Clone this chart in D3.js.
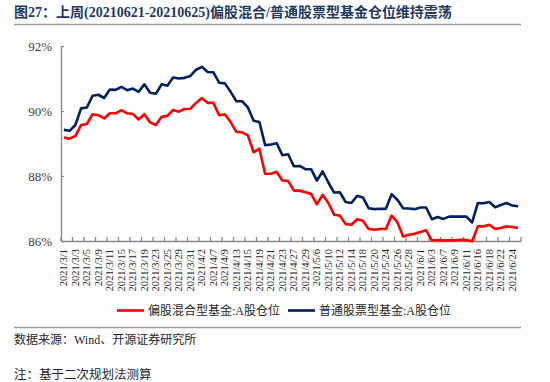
<!DOCTYPE html>
<html><head><meta charset="utf-8">
<script src="https://cdn.jsdelivr.net/npm/d3@7"></script>
<style>
html,body{margin:0;padding:0;background:#fff;}
svg{display:block;}
</style></head>
<body>
<svg id="c" width="550" height="382"></svg>
<script>
const dates = ["2021/3/1","2021/3/2","2021/3/3","2021/3/4","2021/3/5","2021/3/8","2021/3/9","2021/3/10","2021/3/11","2021/3/12",
"2021/3/15","2021/3/16","2021/3/17","2021/3/18","2021/3/19","2021/3/22","2021/3/23","2021/3/24","2021/3/25","2021/3/26",
"2021/3/29","2021/3/30","2021/3/31","2021/4/1","2021/4/2","2021/4/6","2021/4/7","2021/4/8","2021/4/9","2021/4/12",
"2021/4/13","2021/4/14","2021/4/15","2021/4/16","2021/4/19","2021/4/20","2021/4/21","2021/4/22","2021/4/23","2021/4/26",
"2021/4/27","2021/4/28","2021/4/29","2021/4/30","2021/5/6","2021/5/7","2021/5/10","2021/5/11","2021/5/12","2021/5/13",
"2021/5/14","2021/5/17","2021/5/18","2021/5/19","2021/5/20","2021/5/21","2021/5/24","2021/5/25","2021/5/26","2021/5/27",
"2021/5/28","2021/5/31","2021/6/1","2021/6/2","2021/6/3","2021/6/4","2021/6/7","2021/6/8","2021/6/9","2021/6/10",
"2021/6/11","2021/6/15","2021/6/16","2021/6/17","2021/6/18","2021/6/21","2021/6/22","2021/6/23","2021/6/24","2021/6/25"];

const mixedFund = [89.18,89.15,89.23,89.57,89.60,89.90,89.87,89.77,89.93,89.93,
90.03,89.93,89.91,89.74,89.90,89.65,89.57,89.82,89.85,90.03,
89.98,90.06,90.07,90.25,90.40,90.25,90.25,89.87,89.90,89.66,
89.36,89.34,89.25,88.73,88.84,88.07,88.07,88.13,87.86,87.85,
87.55,87.55,87.50,87.45,87.13,87.42,87.17,86.81,86.78,86.52,
86.50,86.67,86.62,86.37,86.35,86.37,86.37,86.78,86.58,86.14,
86.19,86.22,86.28,86.33,86.02,86.03,86.02,86.02,86.02,86.04,
86.03,85.99,86.45,86.45,86.50,86.37,86.40,86.45,86.43,86.40];

const stockFund = [89.42,89.39,89.57,90.08,90.11,90.47,90.50,90.40,90.66,90.65,
90.74,90.64,90.69,90.59,90.82,90.56,90.53,90.82,90.78,91.03,
91.00,91.02,91.08,91.27,91.36,91.20,91.19,90.87,90.85,90.59,
90.30,90.30,90.11,89.70,89.66,88.95,88.97,89.01,88.64,88.67,
88.30,88.31,88.21,88.21,87.86,88.14,87.80,87.49,87.50,87.20,
87.17,87.39,87.34,87.01,86.98,86.99,86.99,87.44,87.27,87.01,
87.00,86.98,87.03,87.03,86.67,86.74,86.68,86.75,86.75,86.75,
86.75,86.57,87.17,87.16,87.20,87.04,87.11,87.17,87.09,87.07];

const yTicks = [86, 88, 90, 92];
const seriesNames = ["偏股混合型基金:A股仓位", "普通股票型基金:A股仓位"];
const seriesColors = ["#ff0000", "#002060"];
const titleText = "图27：上周(20210621-20210625)偏股混合/普通股票型基金仓位维持震荡";
const sourceText = "数据来源：Wind、开源证券研究所";
const noteText = "注：基于二次规划法测算";

const svg = d3.select("#c");
const serif = "'Liberation Serif','Times New Roman','Noto Sans CJK SC',serif";
const cjk = "'Liberation Serif','Noto Sans CJK SC',sans-serif";
const axisColor = "#868686";

// Title
svg.append("text").attr("x", 14).attr("y", 17)
  .attr("font-family", cjk).attr("font-weight", "bold").attr("font-size", 14)
  .attr("fill", "#1f3864").text(titleText);
svg.append("line").attr("x1", 14).attr("x2", 521).attr("y1", 24.5).attr("y2", 24.5)
  .attr("stroke", "#9a9a9a").attr("stroke-width", 1.5);

const x = d3.scaleBand().domain(dates).range([61, 521]).padding(0);
const y = d3.scaleLinear().domain([86, 92]).range([241, 46]);
const bw = x.bandwidth();
const cx = d => x(d) + bw / 2;

// Y axis
const yAxis = d3.axisLeft(y).tickValues(yTicks).tickFormat(d => d + "%")
  .tickSizeInner(-3).tickSizeOuter(0).tickPadding(9);
const gy = svg.append("g").attr("transform", "translate(61,0)").call(yAxis);
gy.select(".domain").attr("stroke", axisColor).attr("stroke-width", 1.3);
gy.selectAll(".tick line").attr("stroke", axisColor).attr("stroke-width", 1.3);
gy.selectAll(".tick text").attr("font-family", serif).attr("font-size", 13).attr("fill", "#404040");

// X axis (labels every second category, ticks on category boundaries)
const labelDates = dates.filter((d, i) => i % 2 === 0);
const xAxis = d3.axisBottom(x).tickValues(labelDates).tickSize(0).tickFormat("");
const gx = svg.append("g").attr("transform", "translate(0,241)").call(xAxis);
gx.select(".domain").attr("stroke", axisColor).attr("stroke-width", 1.3);
const tickPos = labelDates.map(d => x(d)).concat([x.range()[1]]);
gx.selectAll(".bticks").data(tickPos).enter().append("line")
  .attr("x1", d => d).attr("x2", d => d).attr("y1", 0).attr("y2", -4)
  .attr("stroke", axisColor).attr("stroke-width", 1.3);
gx.selectAll(".xl").data(labelDates).enter().append("text")
  .attr("transform", d => `translate(${cx(d) + 3.6},8) rotate(-90)`)
  .attr("text-anchor", "end").attr("font-family", serif).attr("font-size", 10.5)
  .attr("fill", "#262626").text(d => d);

// Lines
const line = d3.line().x((v, i) => cx(dates[i])).y(v => y(v));
[mixedFund, stockFund].forEach((s, k) => {
  svg.append("path").datum(s).attr("d", line).attr("fill", "none")
    .attr("stroke", seriesColors[k]).attr("stroke-width", 2.6)
    .attr("stroke-linejoin", "round");
});

// Legend
const legendX = [117, 288];
seriesNames.forEach((n, k) => {
  svg.append("line").attr("x1", legendX[k]).attr("x2", legendX[k] + 27)
    .attr("y1", 310.5).attr("y2", 310.5).attr("stroke", seriesColors[k]).attr("stroke-width", 2.6);
  svg.append("text").attr("x", legendX[k] + 31).attr("y", 315)
    .attr("font-family", cjk).attr("font-size", 12).attr("fill", "#262626").text(n);
});

// Footer
svg.append("line").attr("x1", 14).attr("x2", 521).attr("y1", 327.5).attr("y2", 327.5)
  .attr("stroke", "#9a9a9a").attr("stroke-width", 1.5);
svg.append("text").attr("x", 14).attr("y", 344).attr("font-family", cjk)
  .attr("font-size", 12).attr("fill", "#262626").text(sourceText);
svg.append("text").attr("x", 14).attr("y", 379).attr("font-family", cjk)
  .attr("font-size", 12.5).attr("fill", "#262626").text(noteText);
</script>
</body></html>
